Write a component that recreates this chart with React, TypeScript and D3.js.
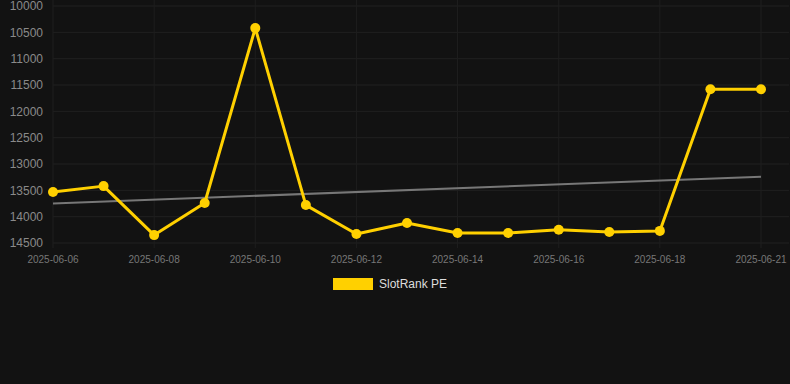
import React from "react";
import * as d3 from "d3";

const categories = [
  "2025-06-06", "2025-06-07", "2025-06-08", "2025-06-09", "2025-06-10",
  "2025-06-11", "2025-06-12", "2025-06-13", "2025-06-14", "2025-06-15",
  "2025-06-16", "2025-06-17", "2025-06-18", "2025-06-19", "2025-06-21",
];
const values = [
  13530, 13420, 14350, 13740, 10420, 13780, 14330, 14120, 14310, 14310,
  14250, 14290, 14270, 11580, 11580,
];
const trendValues = [13750, 13240];
const yTicks = [10000, 10500, 11000, 11500, 12000, 12500, 13000, 13500, 14000, 14500];
const xTickLabels = [
  "2025-06-06", "2025-06-08", "2025-06-10", "2025-06-12", "2025-06-14",
  "2025-06-16", "2025-06-18", "2025-06-21",
];
const seriesName = "SlotRank PE";

const W = 790;
const H = 384;
const left = 53;
const right = 761;
const top = 6;
const bottom = 243;

export default function App() {
  const x = d3.scalePoint<string>().domain(categories).range([left, right]);
  const y = d3.scaleLinear().domain([10000, 14500]).range([top, bottom]);
  const line = d3
    .line<number>()
    .x((_, i) => x(categories[i]) as number)
    .y((d) => y(d));
  const font = "Liberation Sans, Arial, Helvetica, sans-serif";
  return (
    <svg
      width={W}
      height={H}
      style={{ position: "absolute", left: 0, top: 0, background: "#121212" }}
    >
      <rect x={0} y={0} width={W} height={H} fill="#121212" />
      {yTicks.map((t) => (
        <g key={t}>
          <line x1={left} x2={789} y1={y(t)} y2={y(t)} stroke="#202020" strokeWidth={1} />
          <text
            x={43}
            y={y(t)}
            dy="0.35em"
            textAnchor="end"
            fill="#8a8a8a"
            fontSize={12}
            fontFamily={font}
          >
            {t}
          </text>
        </g>
      ))}
      {xTickLabels.map((c) => (
        <g key={c}>
          <line
            x1={x(c)}
            x2={x(c)}
            y1={0}
            y2={bottom + 5}
            stroke="#1e1e1e"
            strokeWidth={1}
          />
          <text
            x={x(c)}
            y={259}
            dy="0.35em"
            textAnchor="middle"
            fill="#777"
            fontSize={10}
            fontFamily={font}
          >
            {c}
          </text>
        </g>
      ))}
      <line
        x1={x(categories[0])}
        x2={x(categories[categories.length - 1])}
        y1={y(trendValues[0])}
        y2={y(trendValues[1])}
        stroke="#777"
        strokeWidth={2}
      />
      <path d={line(values) || ""} fill="none" stroke="#FFD000" strokeWidth={3} strokeLinejoin="round" />
      {values.map((v, i) => (
        <circle key={i} cx={x(categories[i])} cy={y(v)} r={5} fill="#FFD000" />
      ))}
      <rect x={333} y={278} width={40} height={12} fill="#FFD000" />
      <text x={379} y={284} dy="0.35em" fill="#dddddd" fontSize={12} fontFamily={font}>
        {seriesName}
      </text>
    </svg>
  );
}
